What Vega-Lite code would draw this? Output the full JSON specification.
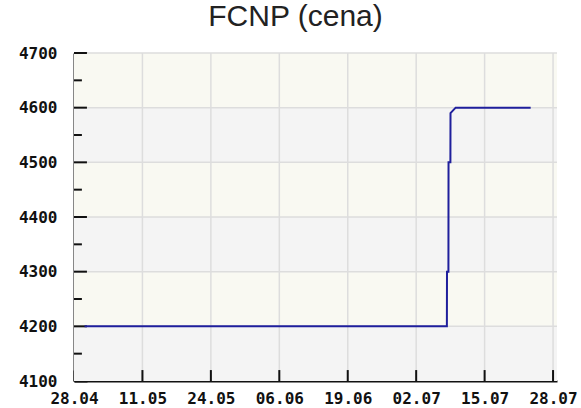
{
  "$schema": "https://vega.github.io/schema/vega-lite/v6.json",
  "width": 483,
  "height": 328,
  "autosize": {"type": "none"},
  "padding": {"left": 74, "top": 53, "right": 24, "bottom": 27},
  "background": "white",
  "config": {
    "view": {"stroke": null},
    "axis": {
      "grid": false, "zindex": 1,
      "labelFont": "DejaVu Sans Mono", "labelFontSize": 16, "labelFontWeight": "bold", "labelColor": "#111111",
      "labelFlush": false, "labelOverlap": false,
      "tickWidth": 2, "tickColor": "#111111",
      "domainColor": "#111111", "domainWidth": 2
    },
    "axisX": {"tickSize": -11, "labelPadding": 20, "labelExpr": "utcFormat(datum.value, '%d.%m')"},
    "axisY": {"tickSize": -13, "labelPadding": 30, "labelExpr": "format(datum.value, 'd')"}
  },
  "title": {"text": "FCNP (cena)", "font": "Liberation Sans", "fontSize": 30, "fontWeight": "normal", "color": "#222222", "anchor": "middle", "dx": -20, "offset": 13},
  "datasets": {
    "bands": [
      {"lo": 4600, "hi": 4700, "shade": "a"},
      {"lo": 4500, "hi": 4600, "shade": "b"},
      {"lo": 4400, "hi": 4500, "shade": "a"},
      {"lo": 4300, "hi": 4400, "shade": "b"},
      {"lo": 4200, "hi": 4300, "shade": "a"},
      {"lo": 4100, "hi": 4200, "shade": "b"}
    ],
    "hgrid": [{"v": 4200}, {"v": 4300}, {"v": 4400}, {"v": 4500}, {"v": 4600}, {"v": 4700}],
    "vgrid": [
      {"d": "2008-05-11T00:00:00Z"}, {"d": "2008-05-24T00:00:00Z"}, {"d": "2008-06-06T00:00:00Z"},
      {"d": "2008-06-19T00:00:00Z"}, {"d": "2008-07-02T00:00:00Z"}, {"d": "2008-07-15T00:00:00Z"},
      {"d": "2008-07-28T00:00:00Z"}
    ],
    "minor": [{"v": 4150}, {"v": 4250}, {"v": 4350}, {"v": 4450}, {"v": 4550}, {"v": 4650}],
    "price": [
      {"d": "2008-04-30T00:00:00Z", "p": 4200},
      {"d": "2008-07-07T20:00:00Z", "p": 4200},
      {"d": "2008-07-07T20:30:00Z", "p": 4300},
      {"d": "2008-07-08T03:00:00Z", "p": 4300},
      {"d": "2008-07-08T03:30:00Z", "p": 4500},
      {"d": "2008-07-08T12:00:00Z", "p": 4500},
      {"d": "2008-07-08T12:30:00Z", "p": 4590},
      {"d": "2008-07-09T12:00:00Z", "p": 4600},
      {"d": "2008-07-23T18:00:00Z", "p": 4600}
    ]
  },
  "layer": [
    {
      "data": {"name": "bands"},
      "mark": {"type": "rect"},
      "encoding": {
        "y": {"field": "lo", "type": "quantitative", "scale": {"domain": [4100, 4700], "nice": false, "zero": false},
          "axis": {"title": null, "values": [4100, 4200, 4300, 4400, 4500, 4600, 4700]}},
        "y2": {"field": "hi"},
        "color": {"field": "shade", "type": "nominal", "scale": {"domain": ["a", "b"], "range": ["#f9f9f2", "#f4f4f4"]}, "legend": null}
      }
    },
    {
      "data": {"name": "hgrid"},
      "mark": {"type": "rule", "color": "#dddddd", "strokeWidth": 1.5},
      "encoding": {
        "y": {"field": "v", "type": "quantitative", "scale": {"domain": [4100, 4700], "nice": false, "zero": false},
          "axis": {"title": null, "values": [4100, 4200, 4300, 4400, 4500, 4600, 4700]}}
      }
    },
    {
      "data": {"name": "vgrid"},
      "mark": {"type": "rule", "color": "#dddddd", "strokeWidth": 1.5},
      "encoding": {
        "x": {"field": "d", "type": "temporal",
          "scale": {"type": "utc", "domain": [{"year": 2008, "month": 4, "date": 28, "utc": true}, {"year": 2008, "month": 7, "date": 28, "hours": 18, "utc": true}], "nice": false},
          "axis": {
            "title": null,
            "values": [
              {"year": 2008, "month": 4, "date": 28, "utc": true},
              {"year": 2008, "month": 5, "date": 11, "utc": true},
              {"year": 2008, "month": 5, "date": 24, "utc": true},
              {"year": 2008, "month": 6, "date": 6, "utc": true},
              {"year": 2008, "month": 6, "date": 19, "utc": true},
              {"year": 2008, "month": 7, "date": 2, "utc": true},
              {"year": 2008, "month": 7, "date": 15, "utc": true},
              {"year": 2008, "month": 7, "date": 28, "utc": true}
            ]
          }
        }
      }
    },
    {
      "data": {"name": "minor"},
      "mark": {"type": "rule", "color": "#111111", "strokeWidth": 2},
      "encoding": {
        "y": {"field": "v", "type": "quantitative", "scale": {"domain": [4100, 4700], "nice": false, "zero": false}},
        "x": {"datum": {"year": 2008, "month": 4, "date": 28, "utc": true}, "type": "temporal"},
        "x2": {"datum": {"year": 2008, "month": 4, "date": 29, "hours": 12, "utc": true}}
      }
    },
    {
      "data": {"name": "hgrid"},
      "mark": {"type": "rule", "color": "#111111", "strokeWidth": 2},
      "encoding": {
        "y": {"field": "v", "type": "quantitative", "scale": {"domain": [4100, 4700], "nice": false, "zero": false}},
        "x": {"datum": {"year": 2008, "month": 4, "date": 28, "utc": true}, "type": "temporal"},
        "x2": {"datum": {"year": 2008, "month": 4, "date": 30, "hours": 11, "utc": true}}
      }
    },
    {
      "data": {"name": "vgrid"},
      "mark": {"type": "rule", "color": "#111111", "strokeWidth": 2},
      "encoding": {
        "x": {"field": "d", "type": "temporal",
          "scale": {"type": "utc", "domain": [{"year": 2008, "month": 4, "date": 28, "utc": true}, {"year": 2008, "month": 7, "date": 28, "hours": 18, "utc": true}], "nice": false}},
        "y": {"datum": 4100, "type": "quantitative"},
        "y2": {"datum": 4120}
      }
    },
    {
      "data": {"name": "price"},
      "mark": {"type": "line", "color": "#1f1f9c", "strokeWidth": 2, "interpolate": "linear"},
      "encoding": {
        "x": {
          "field": "d", "type": "temporal",
          "scale": {"type": "utc", "domain": [{"year": 2008, "month": 4, "date": 28, "utc": true}, {"year": 2008, "month": 7, "date": 28, "hours": 18, "utc": true}], "nice": false},
          "axis": {
            "title": null,
            "values": [
              {"year": 2008, "month": 4, "date": 28, "utc": true},
              {"year": 2008, "month": 5, "date": 11, "utc": true},
              {"year": 2008, "month": 5, "date": 24, "utc": true},
              {"year": 2008, "month": 6, "date": 6, "utc": true},
              {"year": 2008, "month": 6, "date": 19, "utc": true},
              {"year": 2008, "month": 7, "date": 2, "utc": true},
              {"year": 2008, "month": 7, "date": 15, "utc": true},
              {"year": 2008, "month": 7, "date": 28, "utc": true}
            ]
          }
        },
        "y": {
          "field": "p", "type": "quantitative",
          "scale": {"domain": [4100, 4700], "nice": false, "zero": false},
          "axis": {"title": null, "values": [4100, 4200, 4300, 4400, 4500, 4600, 4700]}
        }
      }
    }
  ]
}
